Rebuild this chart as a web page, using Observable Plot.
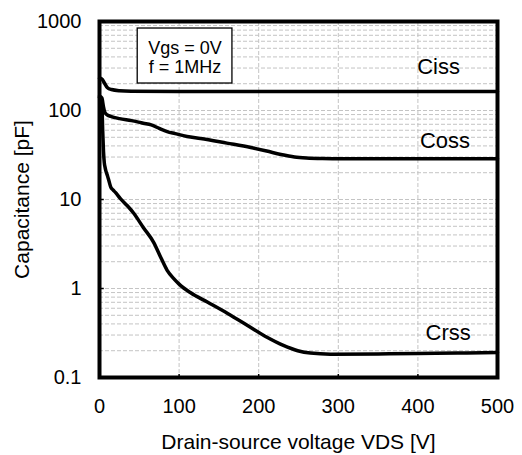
<!DOCTYPE html>
<html><head><meta charset="utf-8">
<script src="https://cdn.jsdelivr.net/npm/d3@7"></script>
<script src="https://cdn.jsdelivr.net/npm/@observablehq/plot@0.6"></script>
<style>body{margin:0;background:#fff}</style>
</head><body><div id="chart"></div>
<script>
// Ciss
const cissV = [0, 3, 6, 10, 15, 25, 40, 100, 200, 300, 400, 500];
const cissC = [230, 226, 205, 180, 172, 167, 165, 164, 164, 164, 164, 164];
// Coss
const cossV = [0, 3, 5, 7, 10, 14, 25, 40, 55, 65, 75, 85, 95, 110, 127, 160, 190, 210, 228, 245, 260, 280, 300, 400, 500];
const cossC = [145, 138, 110, 94, 89, 86, 81, 77, 72, 69, 63, 58, 55, 51, 48.5, 43, 38.4, 35, 32, 30, 29.2, 28.8, 28.7, 28.7, 28.7];
// Crss
const crssV = [0, 3, 4, 5, 6, 7, 8, 10, 12, 14, 17, 20, 26, 35, 43, 55, 68, 77, 85, 93, 100, 114, 136, 161, 186, 211, 231, 249, 265, 290, 350, 400, 450, 500];
const crssC = [140, 120, 60, 35, 26, 23, 21, 18.5, 16, 13.9, 12.8, 12, 10.3, 8.5, 7, 4.85, 3.3, 2.23, 1.6, 1.3, 1.12, 0.9, 0.7, 0.524, 0.384, 0.281, 0.229, 0.2, 0.188, 0.183, 0.184, 0.186, 0.188, 0.191];

const seriesNames = ["Ciss", "Coss", "Crss"];
const labelV = [426, 434, 438];
const labelC = [312, 45, 0.32];

const xTicks = [0, 100, 200, 300, 400, 500];
const yTicks = [0.1, 1, 10, 100, 1000];
const minorMultipliers = [1, 2, 3, 4, 5, 6, 7, 8, 9];

const noteLines = ["Vgs = 0V", "f = 1MHz"];
const noteBoxV = [48, 167];
const noteBoxC = [201, 834];
const noteV = 107.5;
const noteC = 395;

const toRows = (v, c, name) => v.map((x, i) => ({vds: x, cap: c[i], name}));
const rows = [
  ...toRows(cissV, cissC, seriesNames[0]),
  ...toRows(cossV, cossC, seriesNames[1]),
  ...toRows(crssV, crssC, seriesNames[2])
];
const labels = seriesNames.map((n, i) => ({name: n, vds: labelV[i], cap: labelC[i]}));

const gridY = [];
for (const d of yTicks.slice(0, -1)) for (const m of minorMultipliers) {
  const v = +(d * m).toPrecision(6);
  if (v > yTicks[0] && v < yTicks[yTicks.length - 1]) gridY.push(v);
}
const innerX = xTicks.slice(1, -1);
const innerY = yTicks.slice(1, -1);

const chart = Plot.plot({
  width: 522, height: 455,
  marginLeft: 99, marginRight: 25, marginTop: 21, marginBottom: 78,
  style: {fontFamily: "'Liberation Sans', Arial, sans-serif", fontSize: "20px", background: "white", color: "black"},
  x: {domain: [xTicks[0], xTicks[xTicks.length - 1]]},
  y: {type: "log", domain: [yTicks[0], yTicks[yTicks.length - 1]]},
  marks: [
    Plot.ruleY(gridY, {stroke: "#c4c4c4", strokeDasharray: "4,2", strokeWidth: 1}),
    Plot.ruleX(innerX, {stroke: "#c4c4c4", strokeDasharray: "4,2", strokeWidth: 1}),
    Plot.rect([0], {x1: () => noteBoxV[0], x2: () => noteBoxV[1], y1: () => noteBoxC[0], y2: () => noteBoxC[1], fill: "white", stroke: "black", strokeWidth: 1.3}),
    Plot.text([noteLines.join("\n")], {x: () => noteV, y: () => noteC, fontSize: 18, lineHeight: 1.08, fill: "black"}),
    Plot.line(rows, {x: "vds", y: "cap", z: "name", stroke: "black", strokeWidth: 3.5, curve: "monotone-x"}),
    Plot.text(labels, {x: "vds", y: "cap", text: "name", fontSize: 22, fill: "black"}),
    Plot.ruleY(innerY, {x1: xTicks[0], x2: 6, stroke: "black", strokeWidth: 1.5}),
    Plot.ruleX(innerX, {y1: yTicks[0], y2: 0.108, stroke: "black", strokeWidth: 1.5}),
    Plot.frame({stroke: "black", strokeWidth: 4}),
    Plot.axisX({ticks: xTicks, tickSize: 0, tickPadding: 21, fontSize: 20, label: null}),
    Plot.axisX({ticks: [], tickSize: 0, label: "Drain-source voltage VDS [V]", labelAnchor: "center", labelArrow: "none", labelOffset: 71, fontSize: 21}),
    Plot.axisY({ticks: yTicks, tickSize: 0, tickPadding: 18, tickFormat: d => String(d), fontSize: 20, label: null}),
    Plot.axisY({ticks: [], tickSize: 0, label: "Capacitance [pF]", labelAnchor: "center", labelArrow: "none", labelOffset: 85, fontSize: 21})
  ]
});
document.getElementById("chart").append(chart);
</script>
</body></html>
